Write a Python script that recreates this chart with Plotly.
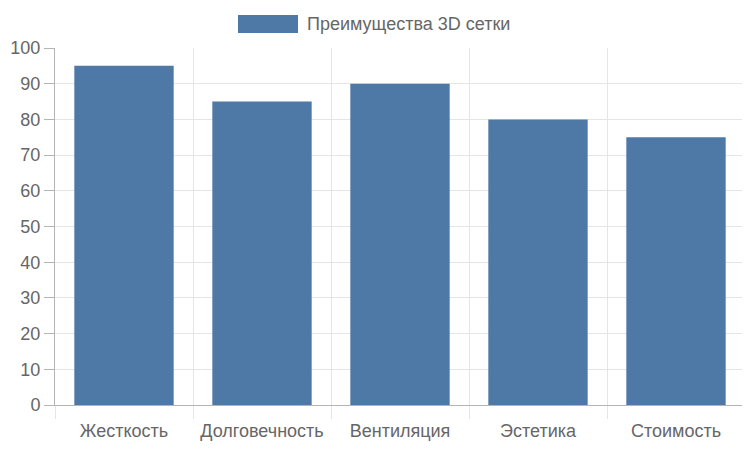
import plotly.graph_objects as go

categories = ["Жесткость", "Долговечность", "Вентиляция", "Эстетика", "Стоимость"]
values = [95, 85, 90, 80, 75]
series_name = "Преимущества 3D сетки"

bar_color = "#4e79a7"
grid = "#e5e5e5"
axis = "#b4b4b4"
font = "Liberation Sans, Arial, sans-serif"

fig = go.Figure(go.Bar(
    x=categories, y=values, name=series_name,
    marker=dict(color=bar_color, line=dict(width=0)),
    showlegend=False,
))

# legend drawn as a wide swatch + label, like the original
fig.add_shape(type="rect", xref="paper", yref="paper",
              x0=0.2652, x1=0.3522, y0=1.042, y1=1.0924,
              fillcolor=bar_color, line=dict(width=0))
fig.add_annotation(text=series_name, xref="paper", yref="paper",
                   x=0.3625, y=1.067, xanchor="left", yanchor="middle",
                   showarrow=False, font=dict(size=18, color="#666666", family=font))
# closing grid line on the right edge (runs down past the axis like the ticks)
fig.add_shape(type="line", xref="paper", yref="paper",
              x0=1, x1=1, y0=-13 / 357, y1=1,
              line=dict(color=grid, width=1), layer="below")

# page body adds an 8px offset, so the figure is 8px smaller
fig.update_layout(
    width=742, height=442,
    margin=dict(l=47, r=5, t=40, b=45),
    plot_bgcolor="white", paper_bgcolor="white",
    bargap=0.28,
    font=dict(family=font, size=18, color="#666666"),
)
fig.update_xaxes(
    tickson="boundaries", ticks="outside", ticklen=13, tickcolor=grid,
    ticklabelstandoff=9,
    showgrid=True, gridcolor=grid, showline=True, linecolor=axis,
    zeroline=False, automargin=False,
)
fig.update_yaxes(
    range=[0, 100], dtick=10, ticks="outside", ticklen=10, tickcolor=axis,
    showgrid=True, gridcolor=grid, showline=True, linecolor=axis,
    mirror=False, zeroline=False, automargin=False,
)

fig.write_html("out.html")
